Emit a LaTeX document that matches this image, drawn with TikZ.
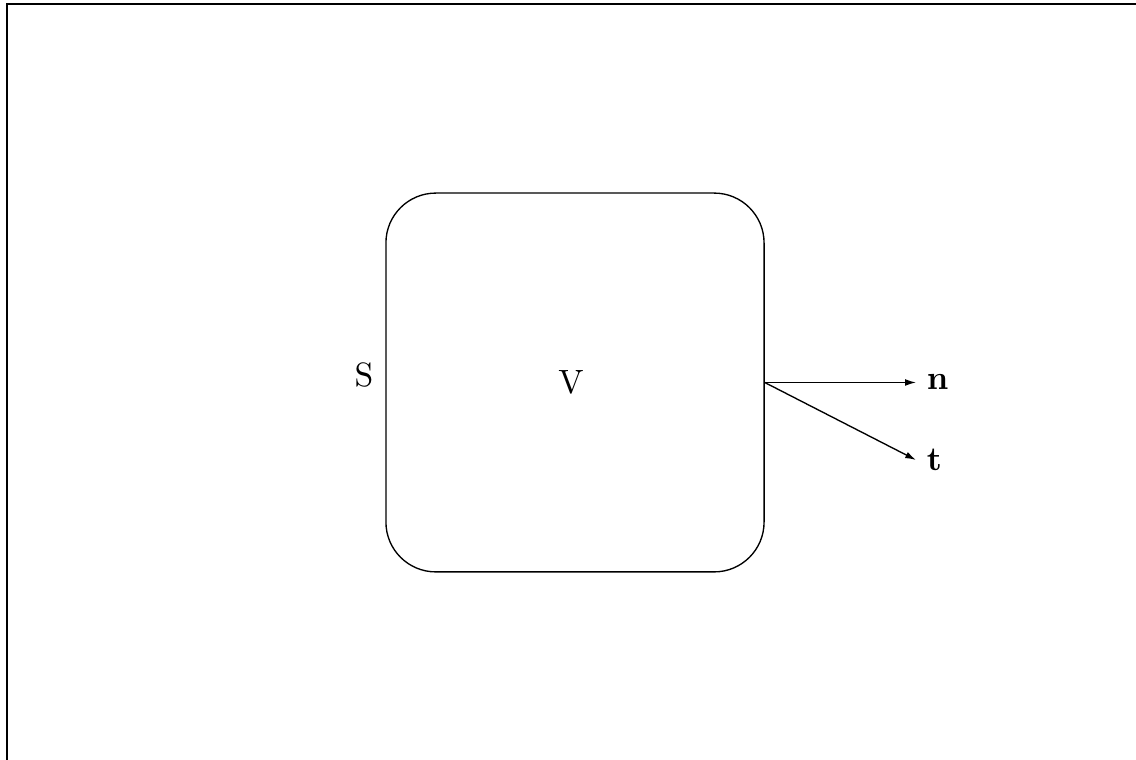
\documentclass[tikz,border=0pt]{standalone}
\usetikzlibrary{arrows.meta}
\begin{document}
\begin{tikzpicture}[x=0.2967pt,y=-0.2967pt,
  region/.style={draw, line width=0.4pt, rounded corners=14.8pt, inner sep=0pt,
    minimum width=112.2pt, minimum height=112.4pt},
  vec/.style={-{Latex[length=3.2pt,width=2pt]}, line width=0.4pt},
  frameline/.style={line width=0.6pt}]
  \useasboundingbox (0,0) rectangle (1136,760);
  % open frame along the top and left edges
  \coordinate (fA) at (7,760);
  \coordinate (fB) at (7,4);
  \coordinate (fC) at (1136,4);
  \draw[frameline] (fA) -- (fB) -- (fC);
  % the region V bounded by the surface S
  \node[region] (box) at (575,382.5) {};
  \node (V) at (571,382.5) {V};
  \node (S) at (364,375) {S};
  % normal and tangent vectors at a point of S
  \coordinate (p) at (box.east);
  \coordinate (nEnd) at (916,382.5);
  \coordinate (tEnd) at (916,460);
  \draw[vec] (p) -- (nEnd);
  \draw[vec] (p) -- (tEnd);
  \node[anchor=west, inner sep=3pt] (n) at (nEnd) {$\mathbf{n}$};
  \node[anchor=west, inner sep=3pt] (t) at (tEnd) {$\mathbf{t}$};
\end{tikzpicture}
\end{document}
